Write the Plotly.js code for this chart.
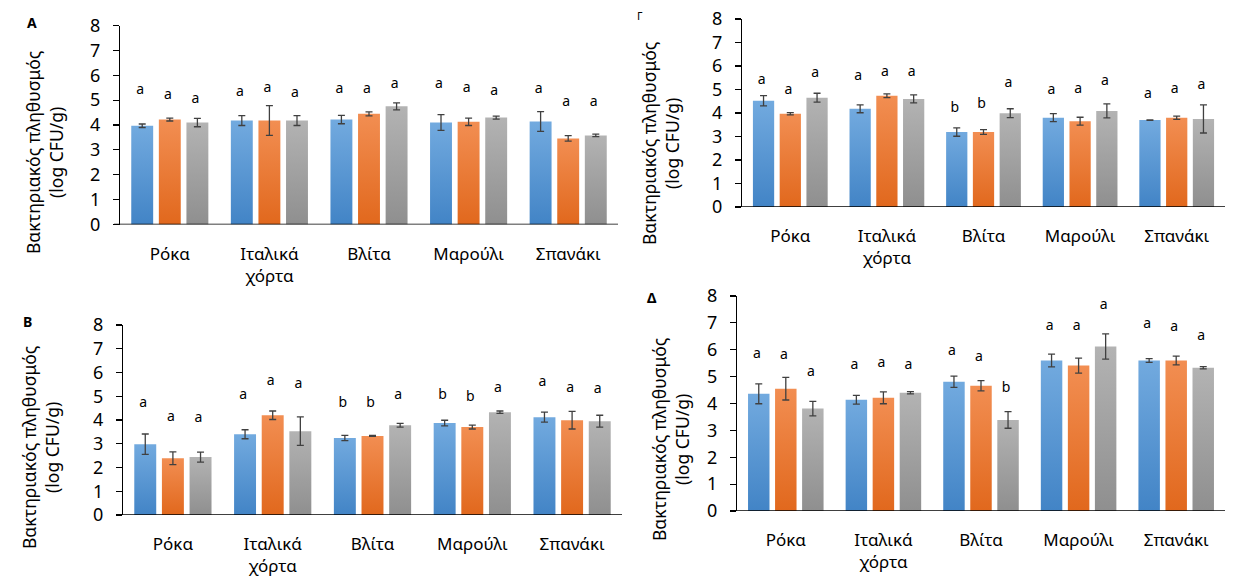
<!DOCTYPE html>
<html>
<head>
<meta charset="utf-8">
<script src="https://cdn.plot.ly/plotly-3.0.1.min.js"></script>
<style>
  html, body { margin: 0; padding: 0; background: #ffffff; }
  #chart { width: 1247px; height: 586px; }
</style>
</head>
<body>
<div id="chart"></div>
<script>
// ---------- DATA ----------
const categories = ['Ρόκα', 'Ιταλικά<br>χόρτα', 'Βλίτα', 'Μαρούλι', 'Σπανάκι'];
const seriesNames = ['Σειρά 1', 'Σειρά 2', 'Σειρά 3'];

// Panel A
const A_s1 = [3.97, 4.18, 4.22, 4.10, 4.14];
const A_s2 = [4.22, 4.18, 4.45, 4.13, 3.46];
const A_s3 = [4.10, 4.18, 4.75, 4.30, 3.58];
const A_e1 = [0.07, 0.20, 0.17, 0.32, 0.40];
const A_e2 = [0.06, 0.60, 0.08, 0.15, 0.11];
const A_e3 = [0.17, 0.20, 0.14, 0.06, 0.05];
const A_l1 = ['a', 'a', 'a', 'a', 'a'];
const A_l2 = ['a', 'a', 'a', 'a', 'a'];
const A_l3 = ['a', 'a', 'a', 'a', 'a'];
const A_ly1 = [5.39, 5.29, 5.42, 5.62, 5.42];
const A_ly2 = [5.19, 5.46, 5.42, 5.46, 4.90];
const A_ly3 = [5.03, 5.25, 5.62, 5.34, 4.90];

// Panel Γ
const G_s1 = [4.52, 4.18, 3.19, 3.80, 3.70];
const G_s2 = [3.97, 4.73, 3.19, 3.65, 3.80];
const G_s3 = [4.65, 4.60, 3.99, 4.09, 3.75];
const G_e1 = [0.22, 0.17, 0.18, 0.17, 0.01];
const G_e2 = [0.05, 0.08, 0.10, 0.17, 0.07];
const G_e3 = [0.19, 0.17, 0.19, 0.30, 0.60];
const G_l1 = ['a', 'a', 'b', 'a', 'a'];
const G_l2 = ['a', 'a', 'b', 'a', 'a'];
const G_l3 = ['a', 'a', 'a', 'a', 'a'];
const G_ly1 = [5.37, 5.54, 4.19, 4.96, 4.80];
const G_ly2 = [4.96, 5.71, 4.35, 5.01, 5.01];
const G_ly3 = [5.67, 5.71, 5.24, 5.33, 5.16];

// Panel B
const B_s1 = [2.98, 3.40, 3.24, 3.87, 4.12];
const B_s2 = [2.39, 4.20, 3.33, 3.70, 3.99];
const B_s3 = [2.44, 3.53, 3.78, 4.33, 3.95];
const B_e1 = [0.43, 0.19, 0.11, 0.12, 0.21];
const B_e2 = [0.27, 0.18, 0.02, 0.08, 0.37];
const B_e3 = [0.21, 0.60, 0.08, 0.05, 0.25];
const B_l1 = ['a', 'a', 'b', 'b', 'a'];
const B_l2 = ['a', 'a', 'b', 'b', 'a'];
const B_l3 = ['a', 'a', 'a', 'a', 'a'];
const B_ly1 = [4.71, 5.04, 4.69, 5.03, 5.59];
const B_ly2 = [4.09, 5.64, 4.69, 4.96, 5.34];
const B_ly3 = [4.05, 5.48, 5.04, 5.34, 5.27];

// Panel Δ
const D_s1 = [4.36, 4.14, 4.81, 5.60, 5.60];
const D_s2 = [4.55, 4.21, 4.66, 5.41, 5.60];
const D_s3 = [3.81, 4.40, 3.39, 6.12, 5.33];
const D_e1 = [0.37, 0.16, 0.21, 0.24, 0.07];
const D_e2 = [0.42, 0.22, 0.19, 0.28, 0.16];
const D_e3 = [0.27, 0.04, 0.31, 0.47, 0.04];
const D_l1 = ['a', 'a', 'a', 'a', 'a'];
const D_l2 = ['a', 'a', 'a', 'a', 'a'];
const D_l3 = ['a', 'a', 'b', 'a', 'a'];
const D_ly1 = [5.83, 5.41, 5.94, 6.85, 6.95];
const D_ly2 = [5.78, 5.48, 5.71, 6.88, 6.83];
const D_ly3 = [5.15, 5.41, 4.54, 7.63, 6.50];

const panelLabels = ['A', 'Γ', 'B', 'Δ'];
const yTitle = 'Βακτηριακός πληθυσμός<br>(log CFU/g)';

// ---------- LAYOUT HELPERS ----------
const W = 1247, H = 586;
const px = x => x / W;
const py = y => 1 - y / H;
const FONT = '"Noto Sans", "DejaVu Sans", sans-serif';
const colors = ['#5B9BD5', '#ED7D31', '#A5A5A5'];
const barWidth = 0.22, pitch = 0.277;

const panels = [
  { key: '', vals: [A_s1, A_s2, A_s3], errs: [A_e1, A_e2, A_e3], lets: [A_l1, A_l2, A_l3], lys: [A_ly1, A_ly2, A_ly3],
    xd: [120, 618], yd: [224.5, 25.5], title: [44, 153], lab: [32, 22, true, 14] },
  { key: '2', vals: [G_s1, G_s2, G_s3], errs: [G_e1, G_e2, G_e3], lets: [G_l1, G_l2, G_l3], lys: [G_ly1, G_ly2, G_ly3],
    xd: [742, 1225], yd: [207, 19], title: [660, 144], lab: [640, 15, false, 11] },
  { key: '3', vals: [B_s1, B_s2, B_s3], errs: [B_e1, B_e2, B_e3], lets: [B_l1, B_l2, B_l3], lys: [B_ly1, B_ly2, B_ly3],
    xd: [123, 622], yd: [515, 325], title: [40, 448], lab: [27, 321, true, 14] },
  { key: '4', vals: [D_s1, D_s2, D_s3], errs: [D_e1, D_e2, D_e3], lets: [D_l1, D_l2, D_l3], lys: [D_ly1, D_ly2, D_ly3],
    xd: [737, 1225], yd: [511, 296], title: [670, 440], lab: [652, 297, true, 14] }
];

const idx = categories.map((_, i) => i);
const traces = [];
const layout = {
  width: W, height: H,
  margin: { l: 0, r: 0, t: 0, b: 0 },
  paper_bgcolor: '#ffffff', plot_bgcolor: 'rgba(0,0,0,0)',
  showlegend: false,
  font: { family: FONT, color: '#000000' },
  annotations: [],
  shapes: []
};

panels.forEach((p, pi) => {
  const xa = 'x' + p.key, ya = 'y' + p.key;
  for (let s = 0; s < 3; s++) {
    const c = (s - 1) * pitch;
    traces.push({
      type: 'bar', name: seriesNames[s], xaxis: xa, yaxis: ya,
      x: idx, y: p.vals[s], width: barWidth, offset: c - barWidth / 2,
      marker: { color: colors[s], line: { width: 0 } },
      error_y: { type: 'data', array: p.errs[s], visible: true, color: '#404040', thickness: 1.3, width: 3.5 },
      hoverinfo: 'y'
    });
  }
  for (let s = 0; s < 3; s++) {
    const c = (s - 1) * pitch;
    traces.push({
      type: 'scatter', mode: 'text', xaxis: xa, yaxis: ya,
      x: idx.map(i => i + c - 0.02), y: p.lys[s], text: p.lets[s],
      textposition: 'middle center',
      textfont: { family: FONT, size: 14, color: '#000000' },
      hoverinfo: 'skip', cliponaxis: false
    });
  }
  layout['xaxis' + p.key] = {
    domain: [px(p.xd[0]), px(p.xd[1])], anchor: ya,
    range: [-0.5, 4.5], tickmode: 'array', tickvals: idx, ticktext: categories,
    showgrid: false, zeroline: false, showline: false, ticks: '',
    tickfont: { family: FONT, size: 17, color: '#000000' }, ticklabelstandoff: 17,
    fixedrange: true
  };
  layout['yaxis' + p.key] = {
    domain: [py(p.yd[0]), py(p.yd[1])], anchor: xa,
    range: [0, 8], dtick: 1, tick0: 0,
    showgrid: false, zeroline: false, showline: true, linecolor: '#000000', linewidth: 1.2,
    ticks: 'outside', ticklen: 6, tickwidth: 1.2, tickcolor: '#000000',
    tickfont: { family: FONT, size: 18, color: '#000000' }, ticklabelstandoff: 9,
    fixedrange: true
  };
  layout.shapes.push({
    type: 'line', xref: xa + ' domain', yref: ya, x0: -0.012, x1: 1, y0: 0, y1: 0,
    line: { color: '#000000', width: 1.3 }
  });
  layout.annotations.push({
    xref: 'paper', yref: 'paper', x: px(p.title[0]), y: py(p.title[1]),
    text: yTitle, textangle: -90, showarrow: false,
    font: { family: FONT, size: 17.5, color: '#000000' },
    xanchor: 'center', yanchor: 'middle', align: 'center'
  });
  layout.annotations.push({
    xref: 'paper', yref: 'paper', x: px(p.lab[0]), y: py(p.lab[1]),
    text: p.lab[2] ? '<b>' + panelLabels[pi] + '</b>' : panelLabels[pi], showarrow: false,
    font: { family: FONT, size: p.lab[3], color: '#000000' },
    xanchor: 'center', yanchor: 'middle'
  });
});

Plotly.newPlot('chart', traces, layout, { staticPlot: true, displayModeBar: false }).then(gd => {
  // vertical gradient fills like the original office-style bars
  const svg = gd.querySelector('.main-svg');
  const defs = svg.querySelector('defs') || svg.insertBefore(document.createElementNS('http://www.w3.org/2000/svg', 'defs'), svg.firstChild);
  const grads = [
    ['gBlue', '#72AADF', '#4284C6'],
    ['gOrange', '#F28E52', '#E1681D'],
    ['gGray', '#B3B3B3', '#8F8F8F']
  ];
  grads.forEach(g => {
    const lg = document.createElementNS('http://www.w3.org/2000/svg', 'linearGradient');
    lg.setAttribute('id', g[0]); lg.setAttribute('x1', '0'); lg.setAttribute('y1', '0');
    lg.setAttribute('x2', '0'); lg.setAttribute('y2', '1');
    [[0, g[1]], [1, g[2]]].forEach(st => {
      const stop = document.createElementNS('http://www.w3.org/2000/svg', 'stop');
      stop.setAttribute('offset', st[0]); stop.setAttribute('stop-color', st[1]);
      lg.appendChild(stop);
    });
    defs.appendChild(lg);
  });
  const map = { 'rgb(91, 155, 213)': 'gBlue', 'rgb(237, 125, 49)': 'gOrange', 'rgb(165, 165, 165)': 'gGray' };
  gd.querySelectorAll('.barlayer .point path').forEach(path => {
    const f = path.style.fill;
    if (map[f]) path.style.fill = 'url(#' + map[f] + ')';
  });
});
</script>
</body>
</html>
